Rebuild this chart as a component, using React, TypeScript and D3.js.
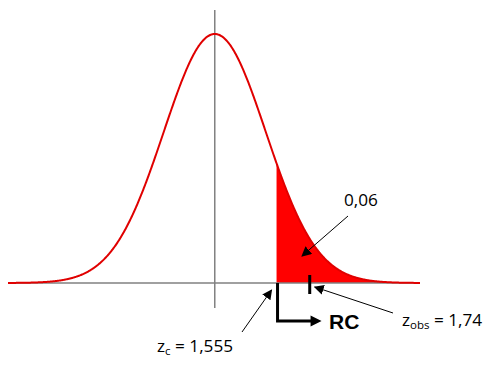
import React from "react";
import * as d3 from "d3";

// display positions (in sigma units of the sketched curve)
const xDomain = [-4.05, 4.02];
const criticalPos = 1.21;
const observedPos = 1.86;
const labels = { area: "0,06", zc: "1,555", zobs: "1,74", rc: "RC" };
const curveSteps = d3.range(-4.05, 4.0201, 0.01);

const W = 487, H = 369;

export default function App() {
  const x = d3.scaleLinear().domain(xDomain).range([8, 420]);
  const y = d3.scaleLinear().domain([0, 1]).range([283, 34]);
  const f = (z: number) => Math.exp(-z * z / 2);
  const line = d3.line<number>().x(d => x(d)).y(d => y(f(d)));
  const area = d3.area<number>().x(d => x(d)).y0(y(0)).y1(d => y(f(d)));
  const tail = curveSteps.filter(d => d >= criticalPos);
  const xc = x(criticalPos);
  const xo = x(observedPos);
  const x0 = x(0);
  const font = "'Open Sans', 'Noto Sans', sans-serif";
  return (
    <svg width={W} height={H} style={{ position: "absolute", left: 0, top: 0, background: "#fff" }}>
      <defs>
        <marker id="ah" viewBox="0 0 10 10" refX="9" refY="5" markerWidth="10" markerHeight="10" markerUnits="userSpaceOnUse" orient="auto">
          <path d="M0,0 L10,5 L0,10 z" fill="#000" />
        </marker>
      </defs>
      <path d={area([criticalPos, ...tail]) || ""} fill="#ff0000" />
      <line x1={8} x2={420} y1={y(0)} y2={y(0)} stroke="#808080" strokeWidth={1.5} />
      <line x1={x0} x2={x0} y1={10} y2={308} stroke="#808080" strokeWidth={1.5} />
      <path d={line(curveSteps) || ""} fill="none" stroke="#e00000" strokeWidth={2} />
      {/* observed tick */}
      <line x1={xo} x2={xo} y1={275} y2={294} stroke="#000" strokeWidth={3} />
      {/* RC bracket */}
      <path d={`M${xc + 1},283 L${xc + 1},321 L${xc + 36},321`} fill="none" stroke="#000" strokeWidth={3} />
      <path d={`M${xc + 34},315.5 L${xc + 45},321 L${xc + 34},326.5 z`} fill="#000" />
      <text x={329} y={329} fontFamily="Arial, 'Liberation Sans', sans-serif" fontWeight="bold" fontSize={21}>{labels.rc}</text>
      {/* area label */}
      <text x={344} y={206} fontFamily={font} fontSize={17.2}>{labels.area}</text>
      <line x1={348} y1={216} x2={302} y2={256} stroke="#000" strokeWidth={1} markerEnd="url(#ah)" />
      {/* zc label */}
      <text x={157} y={352} fontFamily={font} fontSize={17.2}>
        z<tspan fontSize={11.5} dy={3}>c</tspan><tspan dy={-3}> = {labels.zc}</tspan>
      </text>
      <line x1={242} y1={332} x2={xc - 5} y2={290} stroke="#000" strokeWidth={1} markerEnd="url(#ah)" />
      {/* zobs label */}
      <text x={402} y={326} fontFamily={font} fontSize={17.2}>
        z<tspan fontSize={11.5} dy={3}>obs</tspan><tspan dy={-3}> = {labels.zobs}</tspan>
      </text>
      <line x1={393} y1={313} x2={xo + 5} y2={287} stroke="#000" strokeWidth={1} markerEnd="url(#ah)" />
    </svg>
  );
}
